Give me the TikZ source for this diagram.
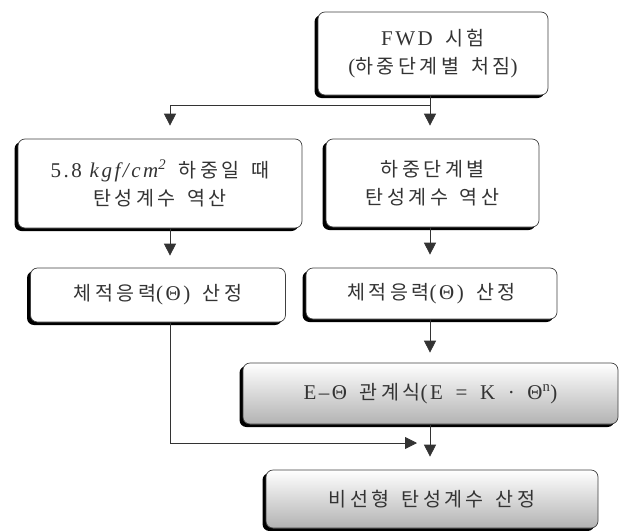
\documentclass[tikz,border=0pt]{standalone}
\usepackage{fontspec}
\setmainfont[LetterSpace=12]{Liberation Serif}
\newfontfamily\kr[LetterSpace=18, Scale=0.93]{Noto Sans CJK KR}
\usetikzlibrary{arrows.meta,shadows}
\newcommand{\ks}{\hspace{0.6em}}
\tikzset{
  stepbox/.style ={draw=black!75, rounded corners=7pt, line width=0.7pt,
                   fill=white, align=center, inner sep=0pt, text=black!80,
                   font=\fontsize{21}{28}\selectfont,
                   drop shadow={shadow xshift=-3.5pt, shadow yshift=-3pt,
                                fill=black, opacity=1}},
  gradbox/.style ={stepbox, top color=white, bottom color=black!30},
  flow/.style    ={-{Triangle[length=12pt,width=12pt]}, line width=0.8pt,
                   black!80},
  gap/.style     ={shorten >=#1},
}
\begin{document}
\begin{tikzpicture}[x=1pt, y=-1pt]
  \useasboundingbox (0,0) rectangle (626,530);
  % top: test
  \node[stepbox, minimum width=230, minimum height=83] (fwd) at (433,53.5)
    {FWD\ks{\kr 시험}\\({\kr 하중단계별\ks 처짐})};
  % row 1 : back-calculation
  \node[stepbox, minimum width=284, minimum height=89] (lcalc) at (160,183.5)
    {5.8 \textit{kgf/cm\textsuperscript{2}}\ks{\kr 하중일\ks 때}\\{\kr 탄성계수\ks 역산}};
  \node[stepbox, minimum width=213, minimum height=88] (rcalc) at (432.5,183)
    {{\kr 하중단계별}\\{\kr 탄성계수\ks 역산}};
  % row 2 : bulk stress
  \node[stepbox, minimum width=255, minimum height=54] (lstress) at (158,295)
    {{\kr 체적응력}(Θ)\ks{\kr 산정}};
  \node[stepbox, minimum width=251, minimum height=51] (rstress) at (431.5,293.5)
    {{\kr 체적응력}(Θ)\ks{\kr 산정}};
  % row 3 : model and result
  \node[gradbox, minimum width=375, minimum height=61] (rel) at (430.5,393.5)
    {E--Θ\ks{\kr 관계식}(E\ks=\ks K\ks·\ks Θ\textsuperscript{n})};
  \node[gradbox, minimum width=332, minimum height=58] (final) at (432,499)
    {{\kr 비선형\ks 탄성계수\ks 산정}};
  % columns of the arrows
  \coordinate (rcol) at (430,0);
  \coordinate (lcol) at (170,0);
  \coordinate (merge) at (417,443);
  \draw[flow, gap=13pt] (fwd.south -| rcol) -- (rcalc.north -| rcol);
  \draw[flow, gap=13pt] (fwd.south -| rcol) ++(0,10) -| (lcalc.north -| lcol);
  \draw[flow, gap=12pt] (lcalc.south -| lcol) -- (lstress.north -| lcol);
  \draw[flow, gap=13pt] (rcalc.south -| rcol) -- (rstress.north -| rcol);
  \draw[flow, gap=10pt] (rstress.south -| rcol) -- (rel.north -| rcol);
  \draw[flow, gap=13pt] (rel.south -| rcol) -- (final.north -| rcol);
  \draw[flow] (lstress.south -| lcol) |- (merge);
\end{tikzpicture}
\end{document}
